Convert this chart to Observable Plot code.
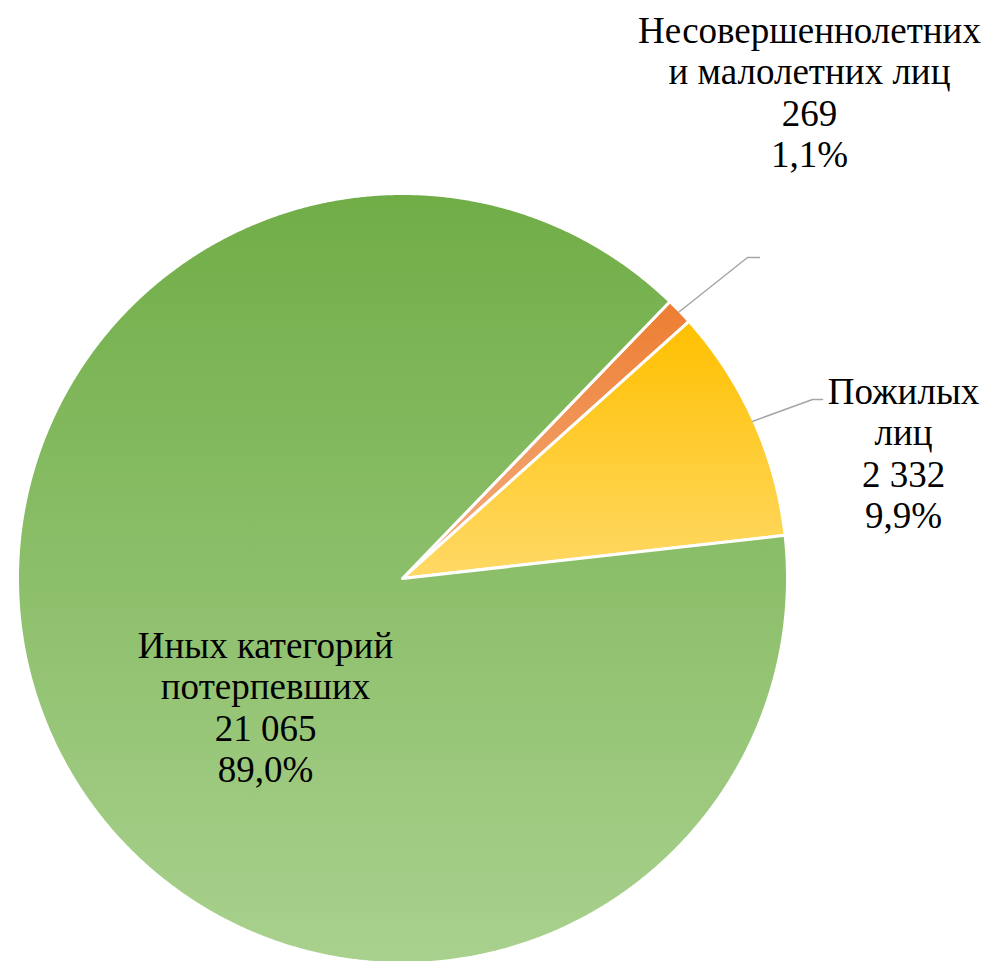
<!DOCTYPE html>
<html><head><meta charset="utf-8">
<script src="https://cdn.jsdelivr.net/npm/d3@7"></script>
<script src="https://cdn.jsdelivr.net/npm/@observablehq/plot@0.6"></script>
<style>body{margin:0;background:#fff}</style>
</head><body><div id="chart"></div>
<script>
// ---- data ----
const categories = ["Несовершеннолетних и малолетних лиц", "Пожилых лиц", "Иных категорий потерпевших"];
const labelLines = ["Несовершеннолетних\nи малолетних лиц", "Пожилых\nлиц", "Иных категорий\nпотерпевших"];
const values = [269, 2332, 21065];

// ---- styles ----
const gradTop = ["#ED7D31", "#FFC000", "#70AD47"];
const gradBottom = ["#F4B183", "#FFD966", "#A9D18E"];
const FONT = "Liberation Serif";

// ---- layout ----
const W = 987, H = 961, cx = 402, cy = 578, R = 385, startDeg = 44;
const labelPos = [{x: 809, y: 13}, {x: 903, y: 374}, {x: 265, y: 628}];
const leaderTail = [[[747, 257], [759, 257]], [[812, 399], [822, 399]], null];

const ru = d3.formatLocale({decimal: ",", thousands: "\u00a0", grouping: [3], currency: ["", ""]});
const fmtN = ru.format(",d");
const fmtP = ru.format(".1f");
const total = d3.sum(values);

const a0 = startDeg * Math.PI / 180;
const arcs = d3.pie().sort(null).startAngle(a0).endAngle(a0 + 2 * Math.PI)(values);
const pt = (a, r) => ({x: cx + r * Math.sin(a), y: cy - r * Math.cos(a)});

const slices = arcs.map((d, i) => {
  const pts = [{...pt(0, 0), id: i}];
  const n = Math.max(4, Math.ceil((d.endAngle - d.startAngle) / (Math.PI / 720)));
  for (let k = 0; k <= n; k++) {
    const a = d.startAngle + (d.endAngle - d.startAngle) * k / n;
    pts.push({...pt(a, R), id: i});
  }
  pts.push({...pt(0, 0), id: i});
  return pts;
});

const labels = categories.map((c, i) => ({
  x: labelPos[i].x, y: labelPos[i].y,
  text: labelLines[i] + "\n" + fmtN(values[i]) + "\n" + fmtP(values[i] / total * 100) + "%"
}));

const leaders = [];
arcs.forEach((d, i) => {
  if (!leaderTail[i]) return;
  const m = (d.startAngle + d.endAngle) / 2;
  leaders.push({...pt(m, R - 1), id: i});
  leaderTail[i].forEach(([x, y]) => leaders.push({x, y, id: i}));
});

const plot = Plot.plot({
  width: W, height: H,
  margin: 0,
  x: {domain: [0, W], range: [0, W], axis: null},
  y: {domain: [0, H], range: [0, H], axis: null},
  marks: [
    ...slices.map((s, i) => Plot.line(s, {x: "x", y: "y", fill: `url(#grad${i})`, stroke: "white", strokeWidth: 3, strokeLinejoin: "round", curve: "linear"})),
    Plot.line(leaders, {x: "x", y: "y", z: "id", stroke: "#A6A6A6", strokeWidth: 1.5}),
    Plot.text(labels, {x: "x", y: "y", text: "text", textAnchor: "middle", lineAnchor: "top", lineHeight: 1.12, fontSize: 37, fontFamily: FONT, fill: "black"})
  ]
});

const defs = d3.select(plot).insert("defs", ":first-child");
gradTop.forEach((c, i) => {
  const g = defs.append("linearGradient").attr("id", `grad${i}`).attr("x1", 0).attr("y1", 0).attr("x2", 0).attr("y2", 1);
  g.append("stop").attr("offset", "0%").attr("stop-color", c);
  g.append("stop").attr("offset", "100%").attr("stop-color", gradBottom[i]);
});

document.getElementById("chart").appendChild(plot);
</script>
</body></html>
